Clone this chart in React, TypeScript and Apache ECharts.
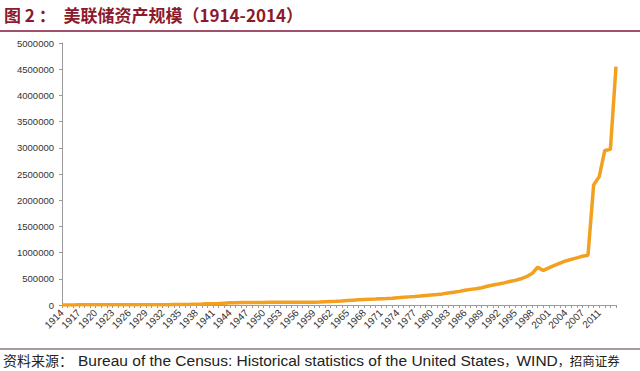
import React, { useEffect, useRef } from "react";
import * as echarts from "echarts";

const years: string[] = [];
for (let y = 1914; y <= 2014; y++) {
  if (y !== 2009) years.push(String(y));
}

// Fed total assets (USD million)
const assets: number[] = [
  300, 600, 1000, 3000, 5000, 6000, 6200, 4500, 4200, 4100, // 1914-1923
  4300, 4400, 4400, 4600, 4700, 4800, 4700, 5000, 5300, 6200, // 1924-1933
  7900, 9600, 11000, 12300, 14500, 17600, 22000, 24000, 28000, 35000, // 1934-1943
  42000, 45000, 47000, 48000, 50000, 47000, 48000, 51000, 53000, 53000, // 1944-1953
  51000, 52000, 53000, 52000, 53000, 53000, 56000, 62000, 66000, 70000, // 1954-1963
  75000, 85000, 92000, 98000, 103000, 108000, 113000, 120000, 125000, 131000, // 1964-1973
  140000, 148000, 155000, 162000, 170000, 180000, 190000, 200000, 212000, 228000, // 1974-1983
  242000, 260000, 280000, 298000, 312000, 330000, 358000, 380000, 400000, 422000, // 1984-1993
  448000, 470000, 500000, 540000, 600000, 720000, 660000, 710000, 755000, 800000, // 1994-2003
  840000, 870000, 900000, 930000, 950000, 2290000, 2450000, 2950000, 2970000, 4550000, // 2004-2008, 2010-2014
];

const yTicks = { min: 0, max: 5000000, interval: 500000 };
const labelStep = 3;
const lastLabelled = "2011";
const highlightIndex = 86;

export default function App() {
  const ref = useRef<HTMLDivElement>(null);
  useEffect(() => {
    if (!ref.current) return;
    const chart = echarts.init(ref.current, null, { renderer: "svg" });
    const lastIdx = years.indexOf(lastLabelled);
    const seriesData = assets.map((v, i) =>
      i === highlightIndex
        ? { value: v, symbol: "circle", symbolSize: 3, itemStyle: { color: "#5a0a0a" } }
        : v
    );
    chart.setOption({
      animation: false,
      backgroundColor: "#ffffff",
      grid: { left: 62, right: 24, top: 43, bottom: 66, containLabel: false },
      xAxis: {
        type: "category",
        data: years,
        boundaryGap: false,
        axisLine: { lineStyle: { color: "#9a9a9a", width: 1 } },
        axisTick: { show: true, interval: 0, length: 3, lineStyle: { color: "#9a9a9a" } },
        axisLabel: {
          interval: (i: number) => i % labelStep === 0 && i <= lastIdx,
          rotate: 45,
          fontSize: 10,
          color: "#333",
          fontFamily: "Liberation Sans",
          margin: 6,
        },
        splitLine: { show: false },
      },
      yAxis: {
        type: "value",
        min: yTicks.min,
        max: yTicks.max,
        interval: yTicks.interval,
        axisLine: { show: true, lineStyle: { color: "#9a9a9a", width: 1 } },
        axisTick: { show: true, length: 3, lineStyle: { color: "#9a9a9a" } },
        axisLabel: {
          fontSize: 9.5,
          color: "#333",
          fontFamily: "Liberation Sans",
          margin: 8,
          formatter: (v: number) => String(v),
        },
        splitLine: { show: false },
      },
      series: [
        {
          type: "line",
          data: seriesData,
          showSymbol: false,
          symbol: "none",
          lineStyle: { color: "#F2A01E", width: 3.5 },
          itemStyle: { color: "#F2A01E" },
          z: 3,
        },
      ],
      graphic: [
        {
          type: "text",
          x: 4,
          y: 14,
          style: {
            text: "图 2 ：  美联储资产规模（1914-2014）",
            font: 'bold 17px "Noto Sans CJK SC"',
            fill: "#8B1A2B",
            textVerticalAlign: "middle",
          },
        },
        {
          type: "line",
          shape: { x1: 0, y1: 31, x2: 640, y2: 31 },
          style: { stroke: "#A0506A", lineWidth: 2 },
        },
        {
          type: "line",
          shape: { x1: 0, y1: 349, x2: 640, y2: 349 },
          style: { stroke: "#8a7a7a", lineWidth: 1.5 },
        },
        {
          type: "text",
          x: 3,
          y: 360,
          style: {
            text: "资料来源：",
            font: '14px "Noto Sans CJK SC"',
            fill: "#222",
            textVerticalAlign: "middle",
          },
        },
        {
          type: "text",
          x: 78,
          y: 360,
          style: {
            text:
              "{en|Bureau of the Census: Historical statistics of the United States}{cm|，}{en|WIND}{cm|，}{cn|招商证券}",
            fill: "#222",
            textVerticalAlign: "middle",
            rich: {
              en: { fontFamily: "Liberation Sans", fontSize: 15.5, fill: "#222" },
              cm: { fontFamily: "Noto Sans CJK SC", fontSize: 12, fill: "#222" },
              cn: { fontFamily: "Noto Sans CJK SC", fontSize: 12.5, fill: "#222" },
            },
          },
        },
      ],
    });
    return () => chart.dispose();
  }, []);
  return (
    <div
      ref={ref}
      style={{ position: "fixed", left: 0, top: 0, width: 640, height: 371 }}
    />
  );
}
